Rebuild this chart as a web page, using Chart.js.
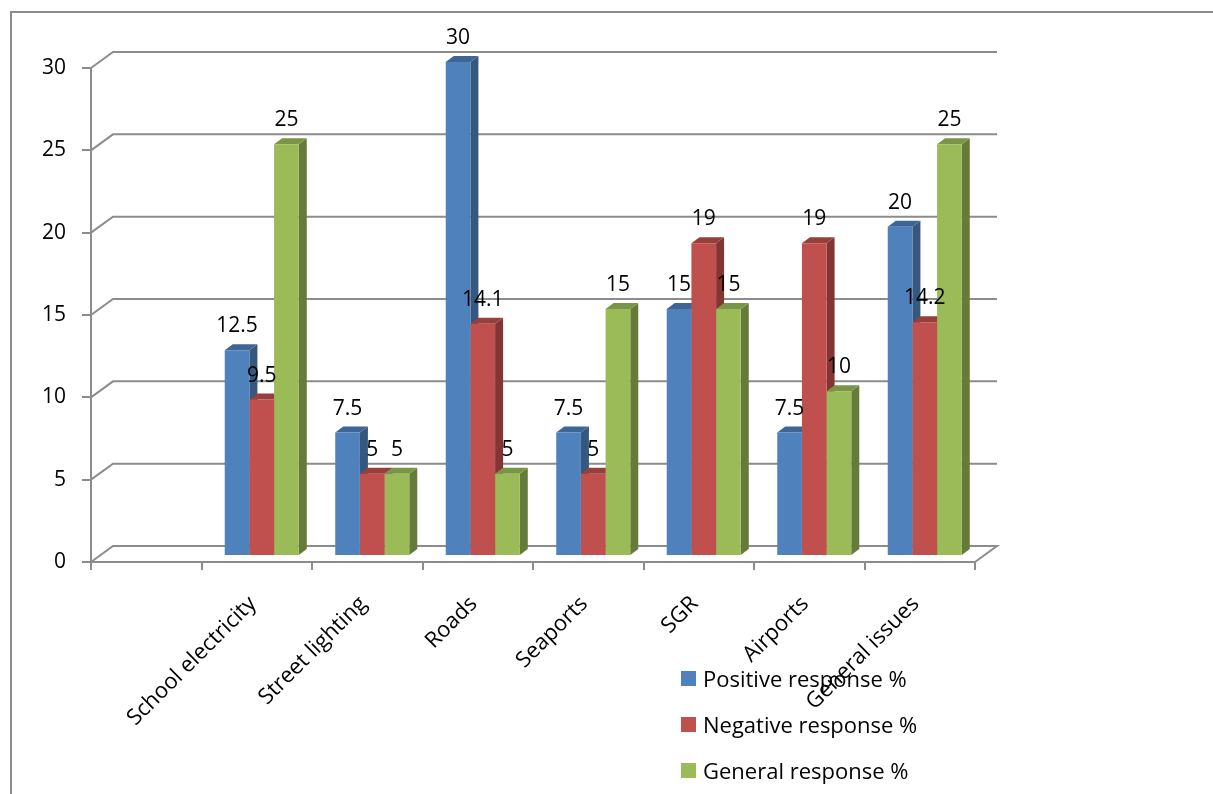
<!DOCTYPE html>
<html>
<head>
<meta charset="utf-8">
<script src="https://cdn.jsdelivr.net/npm/chart.js@4.4.1/dist/chart.umd.min.js"></script>
<style>
    body { margin: 0; background: #fff; }
    #wrap { position: relative; width: 1213px; height: 794px; }
    #legend { position: absolute; left: 681px; top: 655px; font-family: 'Open Sans', sans-serif; font-size: 22px; color: #000; }
    .item { display: flex; align-items: center; height: 46px; }
    .swatch { width: 15px; height: 15px; margin-right: 7px; }
</style>
</head>
<body>
<div id="wrap">
    <canvas id="chart"></canvas>
    <div id="legend"></div>
</div>
<script>
// Chart data
const categories = ['', 'School electricity', 'Street lighting', 'Roads', 'Seaports', 'SGR', 'Airports', 'General issues'];
const positive = [null, 12.5, 7.5, 30, 7.5, 15, 7.5, 20];
const negative = [null, 9.5, 5, 14.1, 5, 19, 19, 14.2];
const general = [null, 25, 5, 5, 15, 15, 10, 25];
const yTicks = [0, 5, 10, 15, 20, 25, 30];

const seriesNames = ['Positive response %', 'Negative response %', 'General response %'];
const fronts = ['#4f81bd', '#c0504d', '#9bbb59'];
const tops = ['#3d6695', '#983f3c', '#7a9545'];
const sides = ['#36587f', '#823532', '#657b3a'];

const GRID = '#8c8c8c';
const DEPTH_X = 8, DEPTH_Y = 6;   // depth of each column
const SHIFT_X = 5, SHIFT_Y = 6;   // columns stand a bit behind the front axis
const WALL_X = 22, WALL_Y = 16;   // back wall offset

Chart.defaults.font.family = "'Open Sans', sans-serif";
Chart.defaults.font.size = 21;
Chart.defaults.color = '#000';

// back wall, floor and outer frame
const wallPlugin = {
    id: 'wall',
    beforeDraw(chart) {
        const { ctx, chartArea: a, scales: { y } } = chart;
        ctx.save();
        ctx.strokeStyle = GRID;
        ctx.lineWidth = 2;
        ctx.beginPath();
        ctx.moveTo(11, 794);
        ctx.lineTo(11, 12);
        ctx.lineTo(1213, 12);
        ctx.stroke();
        yTicks.forEach(v => {
            const py = y.getPixelForValue(v);
            ctx.beginPath();
            ctx.moveTo(a.left, py);
            ctx.lineTo(a.left + WALL_X, py - WALL_Y);
            ctx.lineTo(a.right + WALL_X, py - WALL_Y);
            if (v === 0) ctx.lineTo(a.right, a.bottom);
            ctx.stroke();
        });
        ctx.restore();
    },
    beforeDatasetsDraw(chart) {
        const ctx = chart.ctx;
        ctx.save();
        ctx.translate(SHIFT_X, -SHIFT_Y);
        chart.data.datasets.forEach((ds, i) => {
            chart.getDatasetMeta(i).data.forEach((bar, j) => {
                if (ds.data[j] === null) return;
                const { x, y, base, width } = bar.getProps(['x', 'y', 'base', 'width'], true);
                const x1 = x + width / 2, x0 = x - width / 2;
                ctx.fillStyle = sides[i];
                ctx.beginPath();
                ctx.moveTo(x1, y);
                ctx.lineTo(x1 + DEPTH_X, y - DEPTH_Y);
                ctx.lineTo(x1 + DEPTH_X, base - DEPTH_Y);
                ctx.lineTo(x1, base);
                ctx.closePath();
                ctx.fill();
                ctx.fillStyle = tops[i];
                ctx.beginPath();
                ctx.moveTo(x0, y);
                ctx.lineTo(x0 + DEPTH_X, y - DEPTH_Y);
                ctx.lineTo(x1 + DEPTH_X, y - DEPTH_Y);
                ctx.lineTo(x1, y);
                ctx.closePath();
                ctx.fill();
            });
        });
    },
    afterDatasetsDraw(chart) {
        const ctx = chart.ctx;
        ctx.restore();
        // value labels
        ctx.save();
        ctx.font = "21px 'Open Sans', sans-serif";
        ctx.fillStyle = '#000';
        ctx.textAlign = 'center';
        ctx.textBaseline = 'alphabetic';
        chart.data.datasets.forEach((ds, i) => {
            chart.getDatasetMeta(i).data.forEach((bar, j) => {
                const v = ds.data[j];
                if (v === null) return;
                const { x, y } = bar.getProps(['x', 'y'], true);
                ctx.fillText(String(v), x + SHIFT_X, y - SHIFT_Y - 18);
            });
        });
        ctx.restore();
    }
};

const ctx = document.getElementById('chart').getContext('2d');
const chart = new Chart(ctx, {
    type: 'bar',
    data: {
        labels: categories,
        datasets: [positive, negative, general].map((d, i) => ({
            label: seriesNames[i],
            data: d,
            backgroundColor: fronts[i],
            borderWidth: 0,
            clip: false,
            categoryPercentage: 0.67,
            barPercentage: 1,
        })),
    },
    options: {
        responsive: true,
        maintainAspectRatio: false,
        animation: false,
        layout: { padding: { top: 68, right: 238, left: 0, bottom: 0 } },
        plugins: {
            legend: { display: false },
            tooltip: { enabled: false },
        },
        scales: {
            x: {
                grid: { drawOnChartArea: false, drawTicks: true, tickLength: 8, color: GRID, lineWidth: 2 },
                border: { color: GRID, width: 2 },
                ticks: { minRotation: 45, maxRotation: 45, autoSkip: false, padding: 21, labelOffset: -4, font: { size: 22 } },
                afterFit: s => { s.height = 232; },
            },
            y: {
                min: 0,
                max: 30,
                ticks: { stepSize: 5, padding: 16 },
                grid: { drawOnChartArea: false, tickLength: 9, color: GRID, lineWidth: 2 },
                border: { color: GRID, width: 2 },
                afterFit: s => { s.width = 91; },
            },
        },
    },
    plugins: [wallPlugin],
});

// legend
document.getElementById('legend').innerHTML = seriesNames.map((n, i) => `
    <div class="item"><span class="swatch" style="background:${fronts[i]}"></span>${n}</div>
`).join('');
</script>
</body>
</html>
